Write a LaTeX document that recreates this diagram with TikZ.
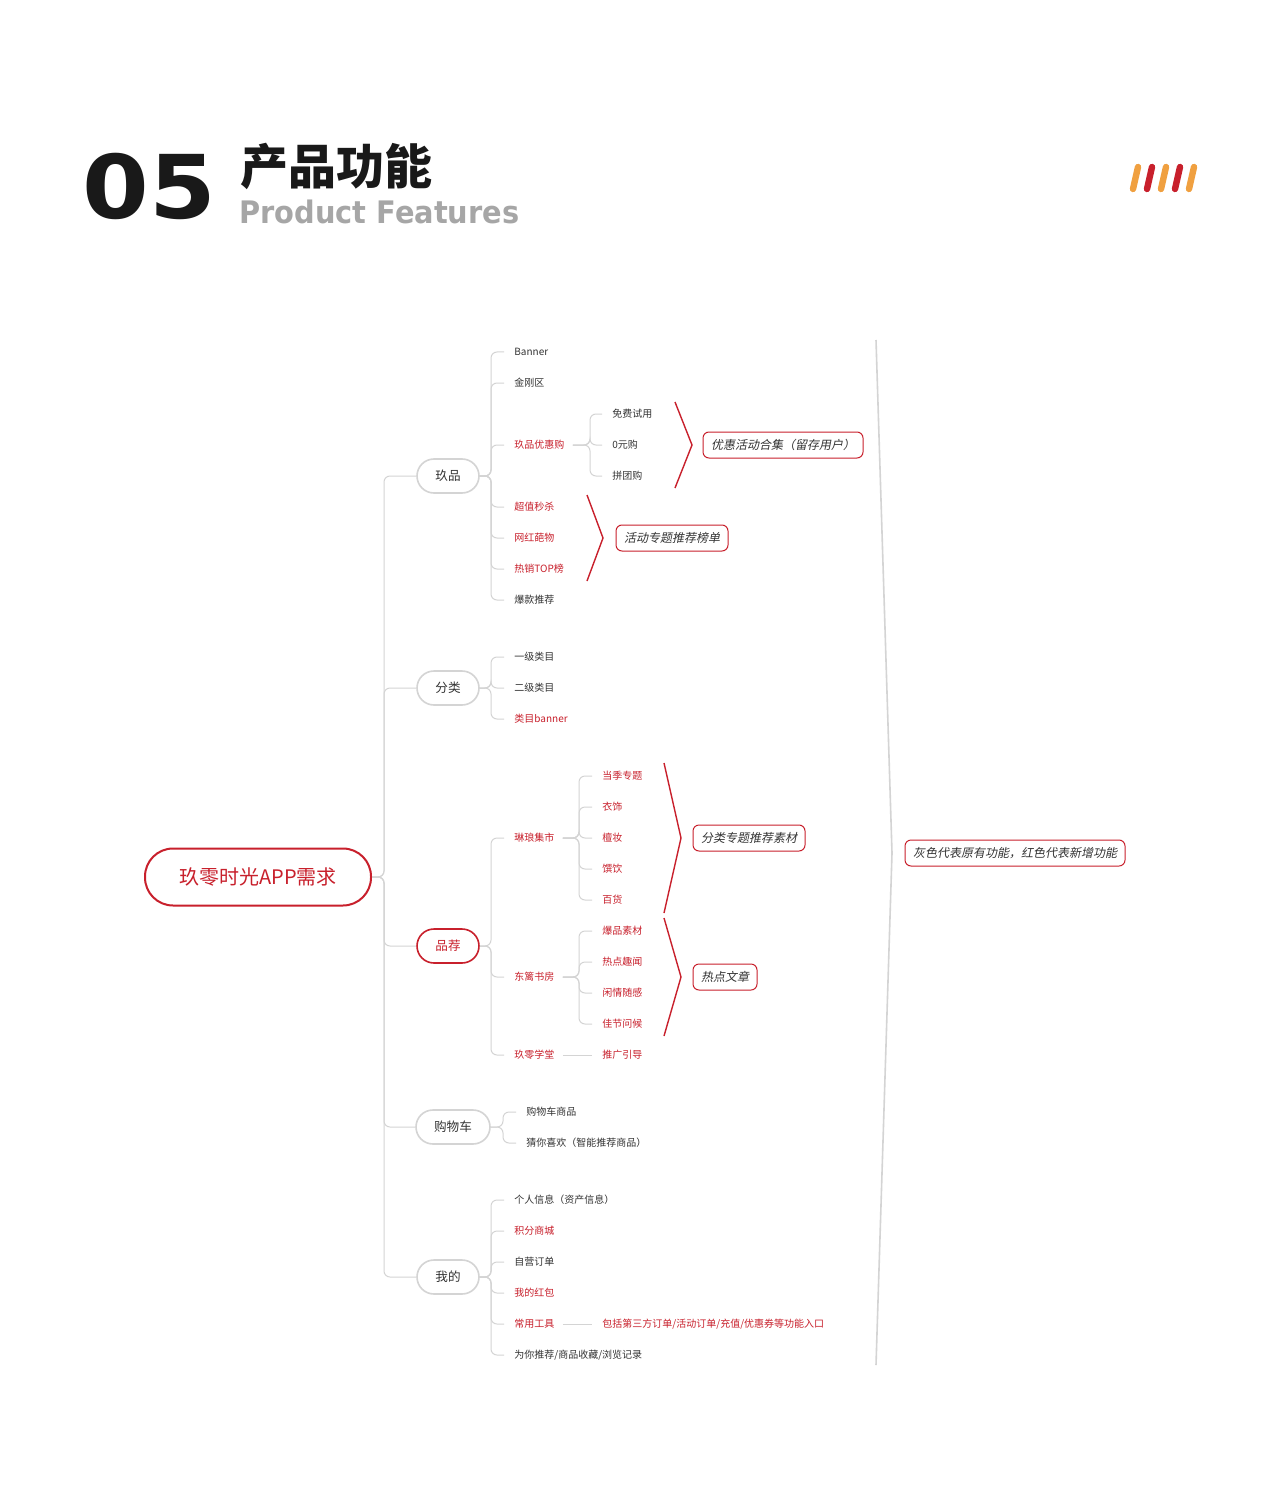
\documentclass[tikz,border=0pt]{standalone}
\usepackage{fontspec}
\setmainfont{Noto Sans CJK SC}
\newfontfamily\cjkit{Noto Sans CJK SC}[FakeSlant=0.2]
\newfontfamily\hd{DejaVu Sans}
\newfontfamily\cjkb{Noto Sans CJK SC Black}
\begin{document}
\definecolor{rd}{HTML}{C8202C}
\definecolor{ln}{HTML}{D4D4D4}
\definecolor{tx}{HTML}{333333}
\definecolor{orng}{HTML}{F0A040}
\begin{tikzpicture}[x=0.5pt,y=-0.5pt,
 conn/.style={ln,line width=0.5pt,rounded corners=3pt},
 l2/.style={anchor=west,inner sep=1pt,font=\fontsize{5}{6}\selectfont,text=tx},
 r2/.style={l2,text=rd},
 l1/.style={draw=ln,line width=0.8pt,rounded corners=8.5pt,minimum width=31pt,minimum height=17pt,inner sep=1pt,font=\fontsize{6.3}{7}\selectfont,text=tx},
 r1/.style={l1,draw=rd,text=rd},
 bx/.style={draw=rd,line width=0.5pt,rounded corners=3pt,inner xsep=4pt,minimum height=13pt,font=\cjkit\fontsize{6}{7}\selectfont,text=tx},
 chev/.style={rd,line width=0.7pt},
 gchev/.style={ln,line width=0.8pt}]
\fill[white] (0,0) rectangle (1280,1508);
% header
\node[anchor=west,inner sep=0,xscale=1.09,font=\hd\bfseries\fontsize{44}{44}\selectfont,text=black!90] (n05) at (82,186) {05};
\node[anchor=west,inner sep=0,font=\cjkb\fontsize{24}{24}\selectfont,text=black!90] (tt) at (240,166) {产品功能};
\node[anchor=west,inner sep=0,xscale=0.93,font=\hd\bfseries\fontsize{15.5}{16}\selectfont,text=black!35] (pf) at (239,212) {Product Features};
\foreach \x/\c in {1133/orng,1147/rd,1161/orng,1175/rd,1189/orng}
 \draw[\c,line width=3.2pt,line cap=round] (\x,189) -- (\x+5,167);
% root
\node[draw=rd,line width=1pt,rounded corners=14pt,minimum width=113pt,minimum height=28.5pt,text=rd,font=\fontsize{10}{12}\selectfont] (root) at (258,877) {玖零时光APP需求};
\node[l1] (a) at (448,476) {玖品};
\node[l1] (b) at (448,688) {分类};
\node[r1] (c) at (448,946) {品荐};
\node[l1,minimum width=37pt] (d) at (453,1127) {购物车};
\node[l1] (e) at (448,1277) {我的};
\coordinate (t) at (384,0);
\foreach \n in {a,b,c,d,e} \draw[conn] (root.east) -- (root.east -| t) |- (\n.west);
% 玖品
\coordinate (ba) at (491,0);
\node[l2] (a1) at (512,352) {Banner};
\node[l2] (a2) at (512,383) {金刚区};
\node[r2] (a3) at (512,445) {玖品优惠购};
\node[r2] (a4) at (512,507) {超值秒杀};
\node[r2] (a5) at (512,538) {网红葩物};
\node[r2] (a6) at (512,569) {热销TOP榜};
\node[l2] (a7) at (512,600) {爆款推荐};
\foreach \n in {a1,a2,a3,a4,a5,a6,a7} \draw[conn] (a.east) -- (a.east -| ba) |- ([xshift=-4pt]\n.west);
\coordinate (ba3) at (590,0);
\node[l2] (a31) at (610,414) {免费试用};
\node[l2] (a32) at (610,445) {0元购};
\node[l2] (a33) at (610,476) {拼团购};
\foreach \n in {a31,a32,a33} \draw[conn] ([xshift=3pt]a3.east) -- (a3.east -| ba3) |- ([xshift=-4pt]\n.west);
\coordinate (ch1a) at (675,402); \coordinate (ch1b) at (692,445); \coordinate (ch1c) at (675,488);
\draw[chev] (ch1a) -- (ch1b) -- (ch1c);
\node[bx] (x1) at (783,445) {优惠活动合集（留存用户）};
\coordinate (ch2a) at (587,495); \coordinate (ch2b) at (603,538); \coordinate (ch2c) at (587,581);
\draw[chev] (ch2a) -- (ch2b) -- (ch2c);
\node[bx] (x2) at (672,538) {活动专题推荐榜单};
% 分类
\node[l2] (b1) at (512,657) {一级类目};
\node[l2] (b2) at (512,688) {二级类目};
\node[r2] (b3) at (512,719) {类目banner};
\foreach \n in {b1,b2,b3} \draw[conn] (b.east) -- (b.east -| ba) |- ([xshift=-4pt]\n.west);
% 品荐
\node[r2] (c1) at (512,838) {琳琅集市};
\node[r2] (c2) at (512,977) {东篱书房};
\node[r2] (c3) at (512,1055) {玖零学堂};
\foreach \n in {c1,c2,c3} \draw[conn] (c.east) -- (c.east -| ba) |- ([xshift=-4pt]\n.west);
\coordinate (bc) at (579,0);
\foreach \y/\t [count=\i] in {776/当季专题,807/衣饰,838/檀妆,869/馔饮,900/百货}
 {\node[r2] (c1\i) at (600,\y) {\t};
  \draw[conn] ([xshift=3pt]c1.east) -- (c1.east -| bc) |- ([xshift=-4pt]c1\i.west);}
\foreach \y/\t [count=\i] in {931/爆品素材,962/热点趣闻,993/闲情随感,1024/佳节问候}
 {\node[r2] (c2\i) at (600,\y) {\t};
  \draw[conn] ([xshift=3pt]c2.east) -- (c2.east -| bc) |- ([xshift=-4pt]c2\i.west);}
\node[r2] (c31) at (600,1055) {推广引导};
\draw[conn] ([xshift=3pt]c3.east) -- ([xshift=-4pt]c31.west);
\coordinate (ch3a) at (664,763); \coordinate (ch3b) at (681,838); \coordinate (ch3c) at (664,913);
\draw[chev] (ch3a) -- (ch3b) -- (ch3c);
\node[bx] (x3) at (749,838) {分类专题推荐素材};
\coordinate (ch4a) at (664,918); \coordinate (ch4b) at (681,977); \coordinate (ch4c) at (664,1036);
\draw[chev] (ch4a) -- (ch4b) -- (ch4c);
\node[bx] (x4) at (725,977) {热点文章};
% 购物车
\coordinate (bd) at (503,0);
\node[l2] (d1) at (524,1112) {购物车商品};
\node[l2] (d2) at (524,1143) {猜你喜欢（智能推荐商品）};
\foreach \n in {d1,d2} \draw[conn] (d.east) -- (d.east -| bd) |- ([xshift=-4pt]\n.west);
% 我的
\node[l2] (e1) at (512,1200) {个人信息（资产信息）};
\node[r2] (e2) at (512,1231) {积分商城};
\node[l2] (e3) at (512,1262) {自营订单};
\node[r2] (e4) at (512,1293) {我的红包};
\node[r2] (e5) at (512,1324) {常用工具};
\node[l2] (e6) at (512,1355) {为你推荐/商品收藏/浏览记录};
\foreach \n in {e1,e2,e3,e4,e5,e6} \draw[conn] (e.east) -- (e.east -| ba) |- ([xshift=-4pt]\n.west);
\node[r2] (e51) at (600,1324) {包括第三方订单/活动订单/充值/优惠券等功能入口};
\draw[conn] ([xshift=3pt]e5.east) -- ([xshift=-4pt]e51.west);
% big
\coordinate (g1) at (876,340); \coordinate (g2) at (892,853); \coordinate (g3) at (876,1365);
\draw[gchev] (g1) -- (g2) -- (g3);
\node[bx] (x5) at (1015,853) {灰色代表原有功能，红色代表新增功能};
\end{tikzpicture}
\end{document}
